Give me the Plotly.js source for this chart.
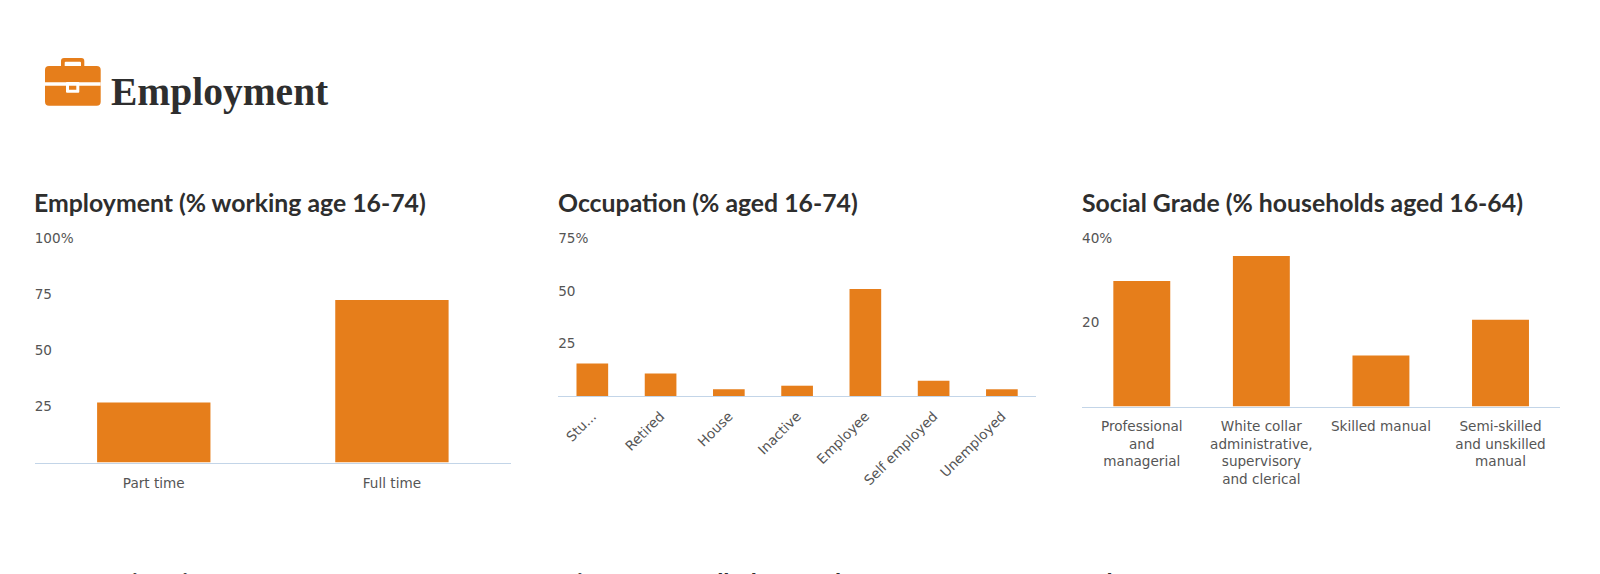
<!DOCTYPE html>
<html>
<head>
<meta charset="utf-8">
<script src="https://cdn.plot.ly/plotly-3.0.1.min.js"></script>
<style>html,body{margin:0;padding:0;background:#fff;overflow:hidden}#c{width:1600px;height:574px}</style>
</head>
<body>
<div id="c"></div>
<script>
var employmentCats = ['Part time', 'Full time'];
var employmentVals = [26.8, 72.5];
var employmentTickVals = [0, 25, 50, 75, 100];
var employmentTickText = ['', '25', '50', '75', '100%'];

var occupationCats = ['Stu...', 'Retired', 'House', 'Inactive', 'Employee', 'Self employed', 'Unemployed'];
var occupationVals = [15.5, 10.7, 3.2, 4.9, 51, 7.3, 3.2];
var occupationTickVals = [0, 25, 50, 75];
var occupationTickText = ['', '25', '50', '75%'];

var gradeCats = ['Professional<br>and<br>managerial', 'White collar<br>administrative,<br>supervisory<br>and clerical', 'Skilled manual', 'Semi-skilled<br>and unskilled<br>manual'];
var gradeVals = [29.8, 35.7, 12.1, 20.6];
var gradeTickVals = [0, 20, 40];
var gradeTickText = ['', '20', '40%'];

var W = 1600, H = 574;
var ORANGE = '#e67e1b', TICK = '#555555', TITLE = '#2e2e2e', LINE = '#c3d5e8';
var tickFont = {family: 'DejaVu Sans', size: 13.6, color: TICK};
function fx(p) { return p / W; }
function fy(p) { return 1 - p / H; }

function xAxis(a, b, angle, n, anchor, pad) {
  return {domain: [fx(a), fx(b)], type: 'category', range: [-0.5, n - 0.5], anchor: anchor, showgrid: false, zeroline: false, showline: true,
    linecolor: LINE, linewidth: 1, ticks: 'outside', ticklen: pad, tickcolor: 'rgba(0,0,0,0)', tickfont: tickFont, tickangle: angle, automargin: false, fixedrange: true};
}
function yAxis(top, bottom, max, vals, text, anchor) {
  return {domain: [fy(bottom), fy(top)], range: [0, max], anchor: anchor, showgrid: false, zeroline: false, showline: false,
    tickmode: 'array', tickvals: vals, ticktext: text, ticks: '', tickfont: tickFont, ticklabelstandoff: -3,
    ticklabelposition: 'inside', ticklabeloverflow: 'allow', automargin: false, fixedrange: true};
}
function bar(cats, vals, ax, ay, w) {
  return {type: 'bar', x: cats, y: vals, xaxis: ax, yaxis: ay, width: w, hoverinfo: 'skip',
    marker: {color: ORANGE, line: {width: 0}}};
}
function heading(text, x, y, size, family) {
  return {text: '<b>' + text + '</b>', xref: 'paper', yref: 'paper', x: fx(x), y: fy(y), xanchor: 'left', yanchor: 'middle',
    showarrow: false, font: {family: family, size: size, color: TITLE}};
}
function rect(x0, y0, x1, y1, fill, r) {
  r = r || 0;
  var p = 'M' + fx(x0 + r) + ',' + fy(y0) + ' L' + fx(x1 - r) + ',' + fy(y0) +
    ' Q' + fx(x1) + ',' + fy(y0) + ' ' + fx(x1) + ',' + fy(y0 + r) +
    ' L' + fx(x1) + ',' + fy(y1 - r) +
    ' Q' + fx(x1) + ',' + fy(y1) + ' ' + fx(x1 - r) + ',' + fy(y1) +
    ' L' + fx(x0 + r) + ',' + fy(y1) +
    ' Q' + fx(x0) + ',' + fy(y1) + ' ' + fx(x0) + ',' + fy(y1 - r) +
    ' L' + fx(x0) + ',' + fy(y0 + r) +
    ' Q' + fx(x0) + ',' + fy(y0) + ' ' + fx(x0 + r) + ',' + fy(y0) + ' Z';
  return {type: 'path', xref: 'paper', yref: 'paper', path: p, fillcolor: fill, line: {width: 0}, layer: 'above'};
}

var T = 'Lato, "Noto Sans", sans-serif';
var data = [
  bar(employmentCats, employmentVals, 'x', 'y', 0.476),
  bar(occupationCats, occupationVals, 'x2', 'y2', 0.464),
  bar(gradeCats, gradeVals, 'x3', 'y3', 0.476)
];
var layout = {
  width: W, height: H, margin: {l: 0, r: 0, t: 0, b: 0}, showlegend: false,
  paper_bgcolor: '#fff', plot_bgcolor: 'rgba(0,0,0,0)',
  xaxis: xAxis(34.7, 511, 0, 2, 'y', 8),
  yaxis: yAxis(238.5, 462.5, 100, employmentTickVals, employmentTickText, 'x'),
  xaxis2: xAxis(558.2, 1036, -45, 7, 'y2', 6),
  yaxis2: yAxis(238.5, 396, 75, occupationTickVals, occupationTickText, 'x2'),
  xaxis3: xAxis(1082, 1560.3, 0, 4, 'y3', 7),
  yaxis3: yAxis(238, 406.5, 40, gradeTickVals, gradeTickText, 'x3'),
  annotations: [
    heading('Employment', 109, 92, 39.5, '"Liberation Serif"'),
    heading('Employment (% working age 16-74)', 32, 202, 24.8, T),
    heading('Occupation (% aged 16-74)', 556, 202, 24.8, T),
    heading('Social Grade (% households aged 16-64)', 1080, 202, 24.8, T),
    heading('Career Direction', 32, 582, 24.8, T),
    heading('Distance travelled to work', 556, 582, 24.8, T),
    heading('Jobs', 1080, 582, 24.8, T)
  ],
  shapes: [
    rect(61, 58, 84.3, 70, ORANGE, 3),
    rect(64.7, 61.7, 81, 68, '#ffffff', 1),
    rect(45, 66, 100.7, 105.7, ORANGE, 4),
    rect(45, 82.3, 100.7, 85.7, '#ffffff', 0),
    rect(66, 82, 79.3, 92.7, '#ffffff', 1),
    rect(69, 85.7, 76.3, 89.7, ORANGE, 0)
  ]
};
Plotly.newPlot('c', data, layout, {displayModeBar: false, staticPlot: true});
</script>
</body>
</html>
